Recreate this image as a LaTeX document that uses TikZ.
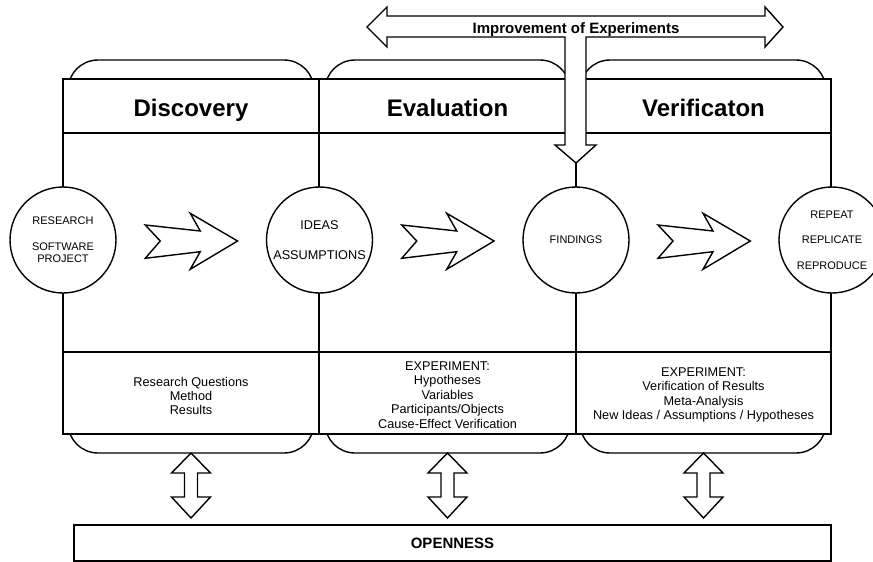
\documentclass[tikz,border=0pt]{standalone}
\usepackage{fontspec}
\setmainfont{Liberation Sans}
\usetikzlibrary{calc}
\begin{document}
\begin{tikzpicture}[x=1pt,y=-1pt,line width=1.4pt,line join=miter,
  capbox/.style={draw,fill=white,rounded corners=30pt},
  colbox/.style={draw,fill=white},
  circ/.style={circle,draw,fill=white,minimum size=106pt,inner sep=0pt,align=center,font=\fontsize{11}{12}\selectfont},
  ttl/.style={anchor=base,font=\fontsize{24}{28}\selectfont\bfseries},
  band/.style={align=center,font=\fontsize{12.7}{14.4}\selectfont},
  fat/.style={draw,fill=white,line join=miter},
  chev/.pic={\draw[fat] (0,0) -- (55,6) -- (45,-11.7) -- (92.3,16) -- (45,44.3) -- (55,26.7) -- (0,33.3) -- (15,16) -- cycle;},
  vda/.pic={\draw[fat] (0,0) -- (19.5,20) -- (6.5,20) -- (6.5,44) -- (19.5,44) -- (0,65) -- (-19.5,44) -- (-6.5,44) -- (-6.5,20) -- (-19.5,20) -- cycle;}]

\useasboundingbox (0,0) rectangle (873,562);
\clip (0,0) rectangle (873,562);

% rounded caps behind the columns
\draw[capbox] (68,60) rectangle (314,453);
\draw[capbox] (325,60) rectangle (570,453);
\draw[capbox] (580,60) rectangle (826,453);

% columns
\draw[colbox] (63,79) rectangle (319,434);
\draw[colbox] (319,79) rectangle (576,434);
\draw[colbox] (576,79) rectangle (831,434);
\draw (63,133) -- (831,133);
\draw (63,352) -- (831,352);

% titles
\node[ttl] (t1) at (191,116) {Discovery};
\node[ttl] (t2) at (447.5,116) {Evaluation};
\node[ttl] (t3) at (703.5,116) {Verificaton};

% bottom bands
\node[band] (b1) at (191,396) {Research Questions\\Method\\Results};
\node[band] (b2) at (447.5,395) {EXPERIMENT:\\Hypotheses\\Variables\\Participants/Objects\\Cause-Effect Verification};
\node[band] (b3) at (703.5,395) {EXPERIMENT:\\Verification of Results\\Meta-Analysis\\New Ideas / Assumptions / Hypotheses};

% circles
\node[circ] (research) at (63,240) {RESEARCH\\[14pt]SOFTWARE\\PROJECT};
\node[circ,font=\fontsize{12.7}{14}\selectfont] (ideas) at (319.5,240) {IDEAS\\[16pt]ASSUMPTIONS};
\node[circ] (findings) at (576,240) {FINDINGS};
\node[circ] (repeat) at (832,240) {REPEAT\\[13.5pt]REPLICATE\\[13.5pt]REPRODUCE};

% chevron arrows between circles
\pic at ($(research.center)!0.5!(ideas.center)+(-46,-15)$) {chev};
\pic at ($(ideas.center)!0.5!(findings.center)+(-46,-15)$) {chev};
\pic at ($(findings.center)!0.5!(repeat.center)+(-46,-15)$) {chev};

% improvement arrow
\draw[fat] (367,27) -- (387,7) -- (387,16) -- (765,16) -- (765,7) -- (783,27) -- (765,47) -- (765,37)
  -- (586,37) -- (586,145) -- (596,145) -- (576,163) -- (555,145) -- (565,145) -- (565,37)
  -- (387,37) -- (387,47) -- cycle;
\node[anchor=base,font=\fontsize{15}{18}\selectfont\bfseries] (impr) at (576,33.3) {Improvement of Experiments};

% openness
\node[draw,minimum width=757pt,minimum height=36pt,inner sep=0pt,font=\fontsize{15}{18}\selectfont\bfseries] (open) at (452.5,543) {OPENNESS};

% vertical double arrows
\pic at (191,453) {vda};
\pic at (447.5,453) {vda};
\pic at (703.5,453) {vda};
\end{tikzpicture}
\end{document}
